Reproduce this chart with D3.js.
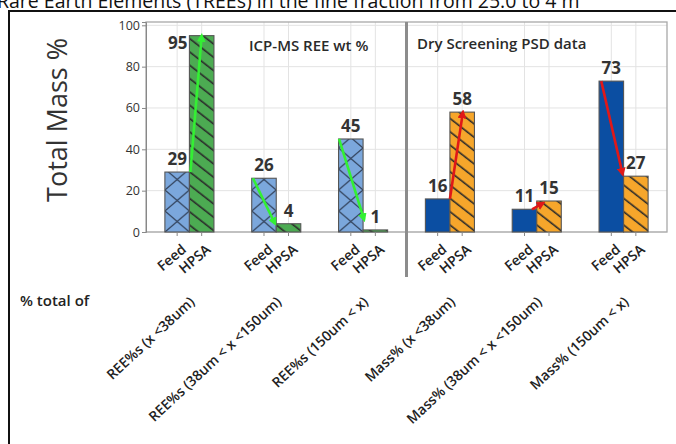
<!DOCTYPE html>
<html>
<head>
<meta charset="utf-8">
<script src="https://cdn.jsdelivr.net/npm/d3@7"></script>
<style>
  html, body { margin: 0; padding: 0; background: #fff; }
  svg { display: block; font-family: "Open Sans", "Noto Sans", sans-serif; }
</style>
</head>
<body>
<svg id="chart" width="676" height="444"></svg>
<script>
// Size classes and the two measured quantities
const categories = [
  "REE%s (x <38um)",
  "REE%s (38um < x <150um)",
  "REE%s (150um < x)",
  "Mass% (x <38um)",
  "Mass% (38um < x <150um)",
  "Mass% (150um < x)"
];
const seriesNames = ["Feed", "HPSA"];
const feedValues = [29, 26, 45, 16, 11, 73];
const hpsaValues = [95, 4, 1, 58, 15, 27];
const panelTitles = ["ICP-MS REE wt %", "Dry Screening PSD data"];
const yTicks = [0, 20, 40, 60, 80, 100];

// Trend arrows: start/end values and horizontal offsets (in bar widths from group centre)
const arrowFromValues = [29, 26, 45, 16, 11, 73];
const arrowToValues = [95, 4, 6, 58, 14, 28];
const arrowFromOffsets = [0.04, -0.95, -0.98, 0.0, -0.19, -0.91];
const arrowToOffsets = [0.5, -0.05, 0.04, 0.53, 0.26, -0.04];

const headline = "Rare Earth Elements (TREEs) in the fine fraction from 25.0 to 4 m";
const yTitle = "Total Mass %";
const rowTitle = "% total of";

const svg = d3.select("#chart");
const plot = { left: 146, right: 667, top: 22, bottom: 232 };

const x = d3.scaleBand().domain(categories).range([plot.left, plot.right]).padding(0);
const xs = d3.scaleBand().domain(seriesNames).range([0, x.bandwidth()])
  .paddingInner(0).paddingOuter(0.77);
const y = d3.scaleLinear().domain([0, 101.6]).range([plot.bottom, plot.top]);
const bw = xs.bandwidth();
const center = c => x(c) + x.bandwidth() / 2;

// Headline (runs past the top edge)
svg.append("text").attr("x", -3).attr("y", 7.5)
  .attr("font-size", 19.5).attr("fill", "#111").text(headline);

// Outer frame
svg.append("rect").attr("x", 9).attr("y", 11).attr("width", 720).attr("height", 500)
  .attr("fill", "none").attr("stroke", "#111").attr("stroke-width", 2);

// Patterns
const defs = svg.append("defs");
const isREE = i => i < 3;
const fillColors = {
  feedREE: "#7ba7dc", hpsaREE: "#4cab52", feedMass: "#0b4ea2", hpsaMass: "#f6a62b"
};

function hatch(id, color, x0) {
  const p = defs.append("pattern").attr("id", id)
    .attr("patternUnits", "userSpaceOnUse")
    .attr("x", x0).attr("y", plot.bottom)
    .attr("width", 16).attr("height", 10.5)
    .attr("patternTransform", "rotate(38 " + x0 + " " + plot.bottom + ")");
  p.append("rect").attr("width", 16).attr("height", 10.5).attr("fill", color);
  p.append("line").attr("x1", 0).attr("y1", 5).attr("x2", 16).attr("y2", 5)
    .attr("stroke", "#2a2a2a").attr("stroke-width", 1.6);
}
function crosshatch(id, color, x0) {
  const w = bw, h = 21;
  const p = defs.append("pattern").attr("id", id)
    .attr("patternUnits", "userSpaceOnUse")
    .attr("x", x0).attr("y", plot.bottom)
    .attr("width", w).attr("height", h);
  p.append("rect").attr("width", w).attr("height", h).attr("fill", color);
  p.append("path").attr("d", `M0,0L${w},${h}M${w},0L0,${h}`)
    .attr("stroke", "#2e3d55").attr("stroke-width", 1.2).attr("fill", "none");
}

const bars = [];
categories.forEach((c, i) => {
  [feedValues[i], hpsaValues[i]].forEach((v, j) => {
    const s = seriesNames[j];
    const bx = x(c) + xs(s);
    let fill;
    if (isREE(i)) {
      if (j === 0) { crosshatch("p" + i + j, fillColors.feedREE, bx); fill = "url(#p" + i + j + ")"; }
      else { hatch("p" + i + j, fillColors.hpsaREE, bx); fill = "url(#p" + i + j + ")"; }
    } else {
      if (j === 0) fill = fillColors.feedMass;
      else { hatch("p" + i + j, fillColors.hpsaMass, bx); fill = "url(#p" + i + j + ")"; }
    }
    bars.push({ c, s, v, i, j, bx, fill });
  });
});

// Grid
const g = svg.append("g");
g.selectAll("line.hg").data(yTicks).join("line").attr("class", "hg")
  .attr("x1", plot.left).attr("x2", plot.right)
  .attr("y1", d => y(d)).attr("y2", d => y(d))
  .attr("stroke", "#e3e3e3").attr("stroke-width", 1);
g.selectAll("line.vg").data(bars).join("line").attr("class", "vg")
  .attr("x1", d => d.bx + bw / 2).attr("x2", d => d.bx + bw / 2)
  .attr("y1", plot.top).attr("y2", plot.bottom)
  .attr("stroke", "#e3e3e3").attr("stroke-width", 1);

// Plot box
svg.append("rect").attr("x", plot.left).attr("y", plot.top)
  .attr("width", plot.right - plot.left).attr("height", plot.bottom - plot.top)
  .attr("fill", "none").attr("stroke", "#a8a8a8").attr("stroke-width", 1.3);

// Bars
svg.append("g").selectAll("rect").data(bars).join("rect")
  .attr("x", d => d.bx).attr("y", d => y(d.v))
  .attr("width", bw).attr("height", d => y(0) - y(d.v))
  .attr("fill", d => d.fill).attr("stroke", "#555").attr("stroke-width", 1.1);

// Y axis
const yAxis = svg.append("g").attr("transform", `translate(${plot.left},0)`)
  .call(d3.axisLeft(y).tickValues(yTicks).tickSize(4).tickPadding(2));
yAxis.select(".domain").attr("stroke", "#888");
yAxis.selectAll(".tick line").attr("stroke", "#888");
yAxis.selectAll(".tick text").attr("font-size", 12.5).attr("fill", "#333")
  .attr("font-family", "'Open Sans', sans-serif");

// X ticks (one per bar)
svg.append("g").selectAll("line").data(bars).join("line")
  .attr("x1", d => d.bx + bw / 2).attr("x2", d => d.bx + bw / 2)
  .attr("y1", plot.bottom).attr("y2", plot.bottom + 4)
  .attr("stroke", "#888");

// Series labels under each bar
svg.append("g").selectAll("text").data(bars).join("text")
  .attr("transform", d => `translate(${d.bx + bw / 2 + 10},${plot.bottom + 19}) rotate(-40)`)
  .attr("text-anchor", "end").attr("font-size", 14).attr("font-weight", 600).attr("fill", "#222")
  .text(d => d.s);

// Category labels
svg.append("g").selectAll("text").data(categories).join("text")
  .attr("transform", c => `translate(${center(c) + 6},${plot.bottom + 71}) rotate(-43)`)
  .attr("text-anchor", "end").attr("font-size", 14).attr("font-weight", 600).attr("fill", "#222")
  .text(c => c);

svg.append("text").attr("x", 20).attr("y", 306).attr("font-size", 15).attr("fill", "#222")
  .attr("font-weight", 600).text(rowTitle);

// Panel divider
const divX = (center(categories[2]) + center(categories[3])) / 2;
svg.append("line").attr("x1", divX).attr("x2", divX)
  .attr("y1", plot.top).attr("y2", 277)
  .attr("stroke", "#8c8c8c").attr("stroke-width", 3);

// Panel titles
svg.append("text").attr("x", 249).attr("y", 50.5).attr("font-size", 15).attr("font-weight", 600)
  .attr("fill", "#2a2a2a").text(panelTitles[0]);
svg.append("text").attr("x", 417).attr("y", 49).attr("font-size", 15).attr("font-weight", 600)
  .attr("fill", "#2a2a2a").text(panelTitles[1]);

// Y title
svg.append("text").attr("transform", "translate(67,120) rotate(-90)")
  .attr("text-anchor", "middle").attr("font-size", 27).attr("fill", "#333")
  .text(yTitle);

// Arrows
["green", "red"].forEach((name, k) => {
  defs.append("marker").attr("id", "arrow-" + name)
    .attr("viewBox", "0 0 10 10").attr("refX", 7).attr("refY", 5)
    .attr("markerWidth", 3.4).attr("markerHeight", 3.4)
    .attr("markerUnits", "strokeWidth").attr("orient", "auto")
    .append("path").attr("d", "M0,0L10,5L0,10Z")
    .attr("fill", k === 0 ? "#33f033" : "#e01818");
});
const arrows = categories.map((c, i) => ({
  x1: center(c) + arrowFromOffsets[i] * bw, y1: y(arrowFromValues[i]),
  x2: center(c) + arrowToOffsets[i] * bw, y2: y(arrowToValues[i]),
  ree: isREE(i)
}));
svg.append("g").selectAll("line").data(arrows).join("line")
  .attr("x1", d => d.x1).attr("y1", d => d.y1).attr("x2", d => d.x2).attr("y2", d => d.y2)
  .attr("stroke", d => d.ree ? "#33f033" : "#e01818").attr("stroke-width", 2.6)
  .attr("marker-end", d => d.ree ? "url(#arrow-green)" : "url(#arrow-red)");

// Value labels
svg.append("g").selectAll("text").data(bars).join("text")
  .attr("x", d => (y(d.v) - 22 < plot.top) ? d.bx - 2 : d.bx + bw / 2)
  .attr("y", d => (y(d.v) - 22 < plot.top) ? y(d.v) + 13 : y(d.v) - 7)
  .attr("text-anchor", d => (y(d.v) - 22 < plot.top) ? "end" : "middle")
  .attr("font-size", 17).attr("font-weight", "bold").attr("fill", "#333")
  .text(d => d.v);
</script>
</body>
</html>
